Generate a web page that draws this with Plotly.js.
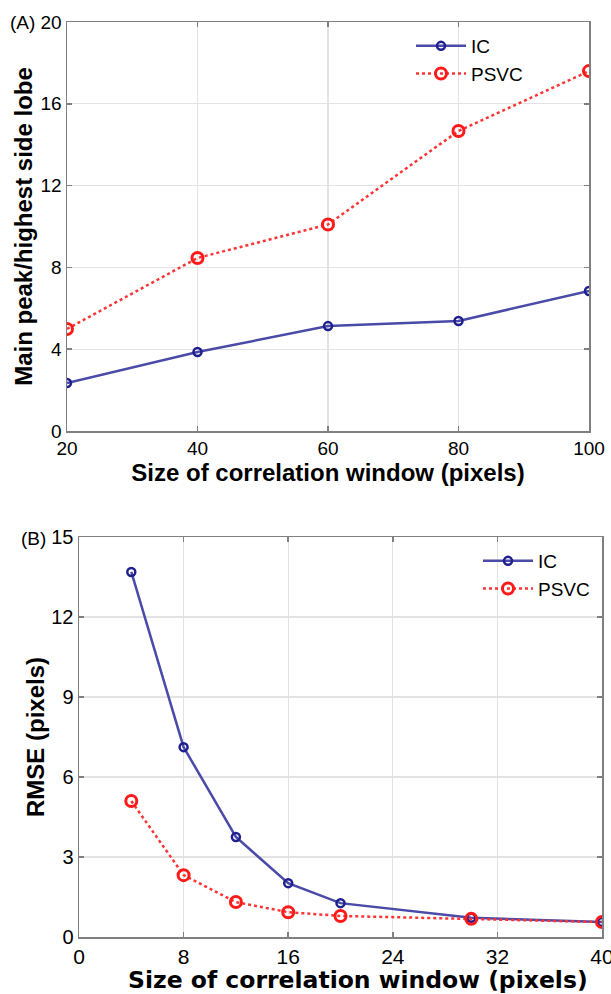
<!DOCTYPE html>
<html>
<head>
<meta charset="utf-8">
<script src="https://cdn.plot.ly/plotly-3.0.1.min.js"></script>
<style>html,body{margin:0;padding:0;background:#fff}#chart{width:611px;height:994px}</style>
</head>
<body>
<div id="chart"></div>
<script>
// Panel A data
const xA = [20, 40, 60, 80, 100];
const icA = [2.35, 3.86, 5.13, 5.38, 6.85];
const psvcA = [4.99, 8.46, 10.1, 14.67, 17.6];
const xTicksA = [20, 40, 60, 80, 100];
const yTicksA = [0, 4, 8, 12, 16, 20];

// Panel B data
const xB = [4, 8, 12, 16, 20, 30, 40];
const icB = [13.69, 7.12, 3.75, 2.02, 1.27, 0.72, 0.56];
const psvcB = [5.1, 2.32, 1.31, 0.93, 0.79, 0.68, 0.56];
const xTicksB = [0, 8, 16, 24, 32, 40];
const yTicksB = [0, 3, 6, 9, 12, 15];

const xTitle = 'Size of correlation window (pixels)';
const yTitleA = 'Main peak/highest side lobe';
const yTitleB = 'RMSE (pixels)';

const W = 611, H = 994;
const px = v => v / W;
const py = v => (H - v) / H;

const icLine = {color: '#4a4aa8', width: 2.5};
const icMarker = {symbol: 'circle-open', size: 8, color: '#1f1f8f', line: {width: 2.5, color: '#1f1f8f'}};
const psLine = {color: '#ff3333', width: 2.5, dash: 'dot'};
const psMarker = {symbol: 'circle-open', size: 11, color: '#ff1a1a', line: {width: 3, color: '#ff1a1a'}};

const traces = [
  {x: xA, y: icA, name: 'IC', mode: 'lines+markers', line: icLine, marker: icMarker, xaxis: 'x', yaxis: 'y', legend: 'legend'},
  {x: xA, y: psvcA, name: 'PSVC', mode: 'lines+markers', line: psLine, marker: psMarker, xaxis: 'x', yaxis: 'y', legend: 'legend'},
  {x: xB, y: icB, name: 'IC', mode: 'lines+markers', line: icLine, marker: icMarker, xaxis: 'x2', yaxis: 'y2', legend: 'legend2'},
  {x: xB, y: psvcB, name: 'PSVC', mode: 'lines+markers', line: psLine, marker: psMarker, xaxis: 'x2', yaxis: 'y2', legend: 'legend2'}
];

const SANS = 'Liberation Sans, Arial, sans-serif';
const axCommon = {
  showline: true, linecolor: '#808080', linewidth: 1.5, mirror: 'ticks',
  ticks: 'inside', ticklen: 5, tickcolor: '#808080', tickwidth: 1.5,
  showgrid: true, gridcolor: '#e3e3e3', gridwidth: 1.2,
  zeroline: false, automargin: false, fixedrange: true, ticklabeloverflow: 'allow'
};
const tickFontA = {family: SANS, size: 19, color: '#000'};
const tickFontBx = {family: SANS, size: 21, color: '#000'};
const tickFontBy = {family: SANS, size: 20, color: '#000'};
const titleFontA = {family: SANS, size: 24, color: '#000', weight: 'bold'};
const titleFontB = {family: SANS, size: 24, color: '#000', weight: 'bold'};

const layout = {
  width: W, height: H,
  margin: {l: 0, r: 0, t: 0, b: 0},
  paper_bgcolor: '#fff', plot_bgcolor: '#fff',
  showlegend: true,
  xaxis: Object.assign({}, axCommon, {
    domain: [px(67), px(589)], range: [20, 100], tickvals: xTicksA, ticktext: xTicksA.map(String),
    tickfont: tickFontA, anchor: 'y',
    title: {text: xTitle, font: titleFontA, standoff: 6}
  }),
  yaxis: Object.assign({}, axCommon, {
    domain: [py(431), py(22)], range: [0, 20], tickvals: yTicksA, ticktext: yTicksA.map(String),
    tickfont: tickFontA, anchor: 'x',
    title: {text: yTitleA, font: titleFontA, standoff: 1}
  }),
  xaxis2: Object.assign({}, axCommon, {
    domain: [px(79), px(602)], range: [0, 40], tickvals: xTicksB, ticktext: xTicksB.map(String),
    tickfont: tickFontBx, anchor: 'y2'
  }),
  yaxis2: Object.assign({}, axCommon, {
    domain: [py(937), py(537)], range: [0, 15], tickvals: yTicksB, ticktext: yTicksB.map(String),
    tickfont: tickFontBy, anchor: 'x2',
    title: {text: yTitleB, font: titleFontB, standoff: 0}
  }),
  legend: {
    x: px(411), y: py(27), xanchor: 'left', yanchor: 'top',
    bgcolor: 'rgba(255,255,255,0)', borderwidth: 0,
    font: {family: SANS, size: 19, color: '#000'},
    tracegroupgap: 0, itemwidth: 50
  },
  legend2: {
    x: px(478), y: py(542), xanchor: 'left', yanchor: 'top',
    bgcolor: 'rgba(255,255,255,0)', borderwidth: 0,
    font: {family: SANS, size: 19, color: '#000'},
    tracegroupgap: 0, itemwidth: 50
  },
  annotations: [
    {text: '(A)', x: px(8), y: py(22), xref: 'paper', yref: 'paper', xanchor: 'left', yanchor: 'middle', showarrow: false,
     font: {family: SANS, size: 19, color: '#000'}},
    {text: '(B)', x: px(19), y: py(538), xref: 'paper', yref: 'paper', xanchor: 'left', yanchor: 'middle', showarrow: false,
     font: {family: SANS, size: 19, color: '#000'}},
    {text: xTitle, x: px(358), y: py(980), xref: 'paper', yref: 'paper', xanchor: 'center', yanchor: 'middle', showarrow: false,
     font: {family: 'DejaVu Sans, sans-serif', size: 23.5, color: '#000', weight: 'bold'}}
  ]
};

Plotly.newPlot('chart', traces, layout, {displayModeBar: false, staticPlot: true});
</script>
</body>
</html>
